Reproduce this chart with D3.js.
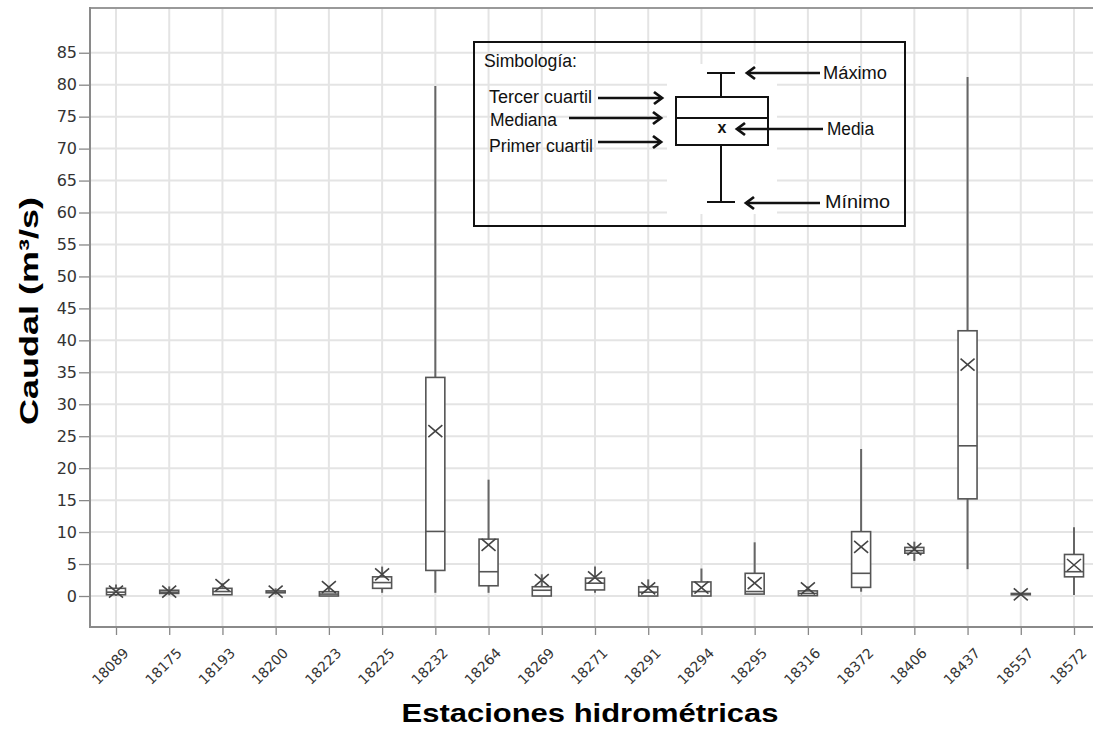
<!DOCTYPE html>
<html><head><meta charset="utf-8">
<script src="https://cdn.jsdelivr.net/npm/d3@7"></script>
<style>body{margin:0;background:#fff}</style>
</head><body><svg id="c" width="1093" height="730"></svg>
<script>
const stations = ["18089","18175","18193","18200","18223","18225","18232","18264","18269","18271","18291","18294","18295","18316","18372","18406","18437","18557","18572"];
const minV  = [0, 0.1, 0.2, 0.2, 0, 0.5, 0.5, 0.5, 0, 0.5, 0, 0, 0.3, 0, 0.67, 5.5, 4.2, 0.1, 0.15];
const q1V   = [0.2, 0.4, 0.2, 0.5, 0, 1.2, 4.0, 1.6, 0, 0.95, 0, 0, 0.3, 0.05, 1.35, 6.7, 15.2, 0.2, 3.0];
const medV  = [0.6, 0.6, 0.7, 0.6, 0.3, 2.1, 10.1, 3.8, 0.9, 2.0, 0.6, 0.7, 0.7, 0.4, 3.55, 7.1, 23.5, 0.3, 3.8];
const q3V   = [1.2, 0.9, 1.2, 0.8, 0.67, 3.0, 34.2, 8.9, 1.45, 2.8, 1.45, 2.2, 3.55, 0.8, 10.07, 7.6, 41.5, 0.4, 6.5];
const maxV  = [1.8, 1.5, 2.0, 1.2, 1.5, 4.6, 79.8, 18.2, 3.4, 4.6, 2.6, 4.3, 8.4, 1.5, 23.0, 8.5, 81.2, 0.5, 10.75];
const meanV = [0.7, 0.7, 1.7, 0.7, 1.4, 3.4, 25.8, 8.0, 2.5, 2.9, 1.2, 1.3, 2.0, 1.2, 7.7, 7.35, 36.2, 0.27, 4.85];
const yTickValues = [0,5,10,15,20,25,30,35,40,45,50,55,60,65,70,75,80,85];

const data = stations.map((s,i)=>({s, min:minV[i], q1:q1V[i], med:medV[i], q3:q3V[i], max:maxV[i], mean:meanV[i]}));

const svg = d3.select("#c");
const L=90, R=1093, T=8, B=627;
const x = d3.scalePoint().domain(stations).range([116,1074]);
const y = d3.scaleLinear().domain([-4.85,92]).range([B,T]);
const gridC="#e4e4e4";

// grid
svg.append("g").selectAll("line").data(yTickValues).join("line")
  .attr("x1",L).attr("x2",R).attr("y1",d=>y(d)).attr("y2",d=>y(d))
  .attr("stroke",gridC).attr("stroke-width",2);
svg.append("g").selectAll("line").data(stations).join("line")
  .attr("x1",d=>x(d)).attr("x2",d=>x(d)).attr("y1",T).attr("y2",B)
  .attr("stroke",gridC).attr("stroke-width",2);

// frame
svg.append("line").attr("x1",L).attr("x2",R).attr("y1",T).attr("y2",T).attr("stroke","#999").attr("stroke-width",2);
svg.append("line").attr("x1",L).attr("x2",L).attr("y1",T-1).attr("y2",B+1).attr("stroke","#8a8a8a").attr("stroke-width",2);
svg.append("line").attr("x1",L).attr("x2",R).attr("y1",B).attr("y2",B).attr("stroke","#8a8a8a").attr("stroke-width",2);

// y axis
const ya = svg.append("g").attr("transform",`translate(${L-1},0)`)
  .call(d3.axisLeft(y).tickValues(yTickValues).tickSize(10).tickSizeOuter(0).tickPadding(2));
ya.select(".domain").remove();
ya.selectAll(".tick line").attr("stroke","#888").attr("stroke-width",1.3);
ya.selectAll(".tick text").attr("font-family","DejaVu Sans, Verdana, sans-serif").attr("font-size",16).attr("fill","#333");

// x axis
const xa = svg.append("g").attr("transform",`translate(0,${B})`)
  .call(d3.axisBottom(x).tickSize(8).tickSizeOuter(0));
xa.select(".domain").remove();
xa.selectAll(".tick line").attr("stroke","#888").attr("stroke-width",1.3);
xa.selectAll(".tick text")
  .attr("font-family","DejaVu Sans, Verdana, sans-serif").attr("font-size",14).attr("fill","#333")
  .attr("text-anchor","end").attr("dy",0).attr("y",0)
  .attr("transform","translate(13,27) rotate(-45)");

// boxes
const bw=19, boxC="#555";
const g = svg.append("g").selectAll("g").data(data).join("g").attr("transform",d=>`translate(${x(d.s)},0)`);
g.append("line").attr("x1",0).attr("x2",0).attr("y1",d=>y(d.max)).attr("y2",d=>y(d.q3)).attr("stroke","#666").attr("stroke-width",2);
g.append("line").attr("x1",0).attr("x2",0).attr("y1",d=>y(d.q1)).attr("y2",d=>y(d.min)).attr("stroke","#666").attr("stroke-width",2);
g.append("rect").attr("x",-bw/2).attr("width",bw).attr("y",d=>y(d.q3)).attr("height",d=>Math.max(1,y(d.q1)-y(d.q3)))
  .attr("fill","#fff").attr("stroke",boxC).attr("stroke-width",1.6);
g.append("line").attr("x1",-bw/2).attr("x2",bw/2).attr("y1",d=>y(d.med)).attr("y2",d=>y(d.med)).attr("stroke",boxC).attr("stroke-width",1.6);
g.append("path").attr("d",d=>{const c=y(d.mean);return `M-7,${c-6}L7,${c+6}M-7,${c+6}L7,${c-6}`;})
  .attr("stroke","#444").attr("stroke-width",1.6).attr("fill","none");

// titles
svg.append("text").attr("x",590).attr("y",722).attr("text-anchor","middle")
  .attr("font-family","Liberation Sans, Arial, sans-serif").attr("font-weight","bold").attr("font-size",26)
  .attr("textLength",377).attr("lengthAdjust","spacingAndGlyphs").attr("fill","#000")
  .text("Estaciones hidrométricas");
svg.append("text").attr("transform","translate(38,311) rotate(-90)").attr("text-anchor","middle")
  .attr("font-family","Liberation Sans, Arial, sans-serif").attr("font-weight","bold").attr("font-size",25)
  .attr("textLength",228).attr("lengthAdjust","spacingAndGlyphs").attr("fill","#000")
  .text("Caudal (m³/s)");

// legend
const lg = svg.append("g");
lg.append("rect").attr("x",667).attr("y",64).attr("width",110).attr("height",150).attr("fill","#fff");
lg.append("rect").attr("x",474).attr("y",42).attr("width",431).attr("height",184).attr("fill","none").attr("stroke","#111").attr("stroke-width",2);
const lf="Liberation Sans, Arial, sans-serif";
function t(xx,yy,s,w){lg.append("text").attr("x",xx).attr("y",yy).attr("font-family",lf).attr("font-size",18)
  .attr("textLength",w).attr("lengthAdjust","spacingAndGlyphs").attr("fill","#111").text(s);}
t(484,67,"Simbología:",93);
t(489,103,"Tercer cuartil",103);
t(490,126,"Mediana",67);
t(489,152,"Primer cuartil",104);
t(823,79,"Máximo",64);
t(827,135,"Media",47);
t(825,208,"Mínimo",65);
// glyph
const k="#111";
function ln(a,b,c,d,w){lg.append("line").attr("x1",a).attr("y1",b).attr("x2",c).attr("y2",d).attr("stroke",k).attr("stroke-width",w||2);}
ln(707,73,735,73);
ln(721,73,721,97);
lg.append("rect").attr("x",676).attr("y",97).attr("width",92).attr("height",48).attr("fill","none").attr("stroke",k).attr("stroke-width",2);
ln(676,118,768,118);
ln(721,145,721,202);
ln(707,202,735,202);
lg.append("text").attr("x",722).attr("y",133).attr("text-anchor","middle").attr("font-family",lf).attr("font-weight","bold").attr("font-size",16).attr("fill",k).text("x");
function arrow(x1,x2,yy){ // head at x2
  ln(x1,yy,x2,yy,2.5);
  const dir = x2>x1?-1:1;
  lg.append("path").attr("d",`M${x2+dir*8},${yy-6}L${x2},${yy}L${x2+dir*8},${yy+6}`).attr("fill","none").attr("stroke",k).attr("stroke-width",2.8).attr("stroke-linejoin","miter");
}
arrow(598,662,98);
arrow(569,661,118);
arrow(598,661,142);
arrow(820,747,73);
arrow(823,737,129);
arrow(820,746,203);
</script></body></html>
